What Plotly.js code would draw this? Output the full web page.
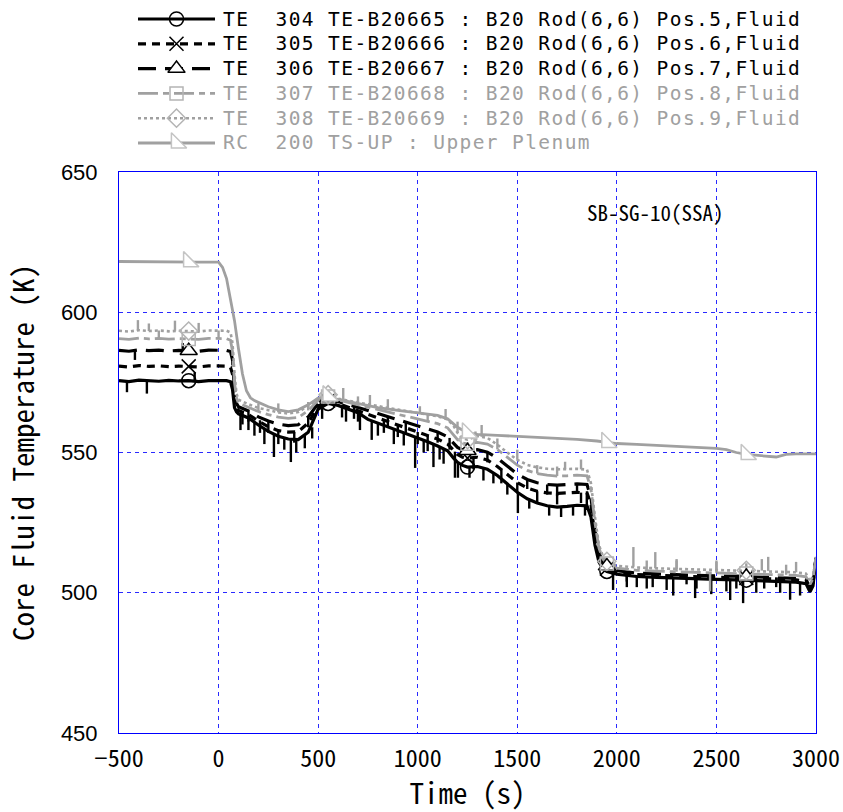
<!DOCTYPE html>
<html>
<head>
<meta charset="utf-8">
<script src="https://cdn.plot.ly/plotly-3.0.1.min.js"></script>
<style>
html,body{margin:0;padding:0;background:#fff;}
#chart{width:843px;height:812px;}
text.annotation-text[data-unformatted*="Fluid"], text.annotation-text[data-unformatted*="Plenum"]{letter-spacing:1.4px;}
</style>
</head>
<body>
<div id="chart"></div>
<script>
// ---------------- DATA ----------------
const seriesNames = [
  'TE  304 TE-B20665 : B20 Rod(6,6) Pos.5,Fluid',
  'TE  305 TE-B20666 : B20 Rod(6,6) Pos.6,Fluid',
  'TE  306 TE-B20667 : B20 Rod(6,6) Pos.7,Fluid',
  'TE  307 TE-B20668 : B20 Rod(6,6) Pos.8,Fluid',
  'TE  308 TE-B20669 : B20 Rod(6,6) Pos.9,Fluid',
  'RC  200 TS-UP : Upper Plenum'
];
const caseLabel = 'SB-SG-10(SSA)';

// time axis shared by the TE thermocouples (s)
const tTE = [-500,-450,-400,-350,-300,-250,-200,-150,-100,-50,0,
  40,60,70,80,90,100,
  150,200,250,300,350,400,450,500,550,600,650,700,750,800,850,900,950,1000,1050,1100,1150,
  1180,1200,1225,1250,
  1300,1350,1400,1450,1500,1550,1600,1650,1700,1750,1800,1850,
  1870,1890,1910,1930,1950,
  2000,2100,2200,2300,2400,2500,2600,
  2650,2700,2800,2900,2950,2970,2985,3000];

const te304 = [575.6,575.3,575.8,575.5,575.4,575.7,575.5,575.6,575.3,575.6,575.5,
  575.6,575.2,572.5,566,564.5,563.8,
  562.3,559.8,557.5,555.8,554.8,554.6,557.2,565.5,567.5,566.8,565.6,564.2,561.8,560.5,559.2,558,556.6,555.2,553.8,552.3,550.6,
  548,546.5,545.4,544.8,
  545,544,541.8,538.7,535.8,533.5,532,531,530.5,530.8,531.2,531,
  527,517,511,508.5,507.6,
  506.6,505.8,505.5,505.2,505,504.8,504.6,
  504.5,504.4,504.2,503.8,503.2,500.3,502.5,512.5];

const te305 = [580.8,580.5,581,580.7,580.9,580.6,580.8,580.7,580.5,580.9,580.7,
  580.8,580.3,578,569,566,565,
  563.5,561.2,559.2,557.8,557.3,557.4,560.5,566.5,568.5,567.5,566.3,565,563.6,562.3,561,559.8,558.6,557.3,556.1,554.8,553,
  550.8,549.3,548.3,548,
  548.3,547.3,545,542,539.3,537.3,536.2,535.6,535.4,535.6,535.8,535.6,
  531.5,520,513,510,508.6,
  507.3,506.5,506.2,505.9,505.7,505.5,505.4,
  505.3,505.2,505,504.6,504.1,501.5,503.5,512];

const te306 = [586.4,586.1,586.6,586.3,586.5,586.2,586.4,586.3,586.1,586.5,586.3,
  586.4,586,583,572,567.5,566.3,
  564.8,562.7,561.2,560.1,559.6,559.9,562.7,567.5,569.3,568.2,567.2,566.1,565,563.9,562.8,561.8,560.7,559.6,558.5,557.3,555.6,
  553.3,551.8,550.9,550.6,
  551,550.1,548,545,542.3,540.4,539.2,538.6,538.4,538.6,538.8,538.6,
  534,522,514.5,511,509.5,
  507.9,507,506.7,506.4,506.2,506,505.9,
  505.8,505.7,505.5,505.1,504.6,502,504,512.3];

const te307 = [590.6,590.3,590.8,590.5,590.7,590.4,590.6,590.5,590.3,590.7,590.5,
  590.6,590,586,575,569.5,567.6,
  566.1,564.6,563.5,562.6,562.2,562.5,564.9,568.6,570,568.8,567.9,567,566.1,565.2,564.4,563.6,562.8,562,561.2,560.3,558.8,
  556.5,554.6,553.4,553.1,
  553.6,553,551.1,548.2,545.5,543.6,542.5,541.9,541.6,541.7,541.9,541.7,
  537,525,516,512,510.4,
  508.8,508,507.7,507.5,507.3,507.1,507,
  506.9,506.8,506.6,506.2,505.7,503,505,512.7];

const te308 = [593.4,593.1,593.6,593.3,593.5,593.2,593.4,593.3,593.1,593.5,593.3,
  593.4,592.8,589,578,571,568.8,
  567.2,565.9,565,564.3,563.9,564.4,566.6,569.3,570.6,569.2,568.5,567.8,567.1,566.5,565.9,565.3,564.7,564.1,563.5,562.9,561.8,
  559.5,557,555,554.6,
  555.9,555.2,552.8,550,547.4,545.6,544.7,544.2,544,544.1,544.2,543.9,
  539,527,517,513,511.2,
  509.6,509,508.7,508.5,508.3,508.2,508.1,
  508,507.9,507.7,507.3,506.8,504,506,513];

// upper plenum fluid temperature
const tRC = [-500,-400,-300,-200,-150,-100,0,
  20,40,60,80,100,120,140,160,180,200,
  250,300,350,400,450,500,550,600,
  700,800,900,1000,1100,1150,1200,1250,1300,
  1400,1500,1600,1700,1800,1900,1950,2000,
  2100,2200,2300,2400,2500,2550,2600,2650,2700,2750,2800,2850,2900,3000];
const rc200 = [618.1,618.0,618.1,617.9,618.0,617.9,617.9,
  616,612,605,597,587,578,572,569.5,568.5,567.8,
  566.3,565.2,564.6,565.2,567,569.4,570.2,568.9,
  567.4,566,565,564.1,563.2,562,559,557,556.5,
  556.1,555.8,555.4,555,554.7,554.1,553.6,553.2,
  552.9,552.6,552.3,552,551.5,551,550,549.3,549,548.6,548.4,549.3,549.5,549.5];

// times at which the plotting symbols are placed
const markerT = [-150, 550, 1250, 1950, 2650];

// short noise spikes: time, level before spike, spike tip
const spk304T = [-460,-360,-120,110,150,180,230,278,330,363,390,433,470,520,640,710,769,800,880,930,987,1030,1079,1110,1130,1202,1260,1330,1380,1450,1503,1560,1660,1720,1780,1840,1981,2050,2100,2150,2250,2283,2393,2474,2550,2569,2634,2700,2820,2870,2920];
const spk304A = [575.6,575.5,575.4,564,562.3,561,558.5,556.5,555.2,554.8,554.6,556,559,566.5,565.8,564,561.5,560.5,558.5,557.2,555.5,554.4,552.7,552,551.5,546.3,544.8,544.6,542.8,538.7,535.7,533.3,531,530.6,531,531,507,506.2,505.8,505.6,505.3,505.3,505,504.9,504.7,504.7,504.5,504.4,504.1,504,503.6];
const spk304B = [571.5,571,578.5,558,558,556,553,548.4,551,546.6,550,551.5,555,562,561,558,554.5,556,553,552.5,544.5,550,544.8,547.5,546,541,541,540,539,535,528.4,530,527.5,527,527.5,527.5,501,502,502,501.5,501,499,498.1,499.5,500.5,497.4,496.3,500,500,497.5,499];

const spk305T = [120,208,300,380,620,700,830,900,1000,1050,1187,1280,1420,1500,1600,1700,1820,1849,2180,2400,2600,2740];
const spk305A = [564.5,561.5,557.8,557.3,567,565,561.6,559.8,557.3,556.1,550.3,548.2,543.8,539.3,536.2,535.4,535.7,535.6,506.3,505.7,505.4,505.1];
const spk305B = [560,557,553,553.5,562.5,561,557,555.5,553,550.5,541,544,539,535.5,532,531.5,532,529.5,502,501.5,501.5,501.5];

const spk306T = [-420,-180,150,250,450,680,850,940,1100,1160,1350,1550,1650,1700,1800,2050,2350,2800];
const spk306A = [586.6,586.4,564.8,561.2,562.7,566.6,562.8,561,557.3,555.2,550.1,540.4,538.6,538.4,538.8,507.5,506.3,505.5];
const spk306B = [583,589,561,557,559,562,559,557,553.5,551,546.5,537,535,534.5,535.3,504,503,502];

const spk307T = [-300,0,200,450,700,1050,1290,1400,1600,1700,2150,2300,2468,2500,2650,2850];
const spk307A = [590.7,590.5,564.6,565,567,561.2,553.5,551.1,542.5,541.6,507.8,507.5,507.2,507.1,506.9,506.4];
const spk307B = [593.5,593.5,567.5,568,570,564,557.5,555,545.5,545,511.5,511.5,500.5,511,510.5,510];

const spk308T = [-405,-350,-219,-100,300,626,760,850,1011,1140,1200,1321,1500,1740,1820,2083,2193,2300,2500,2728,2760,2900];
const spk308A = [593.4,593.3,593.4,593.1,564.3,569,567,565.9,564,562,557,555.6,547.4,544,544,509.3,508.7,508.5,508.2,507.9,507.8,507.3];
const spk308B = [597.2,596,597,596.2,567.5,573,570.5,569,566.5,565.5,561,559.8,551,546.7,547.5,516.3,514.5,512,511.5,512,512.8,511];

// ---------------- STYLES ----------------
const MONO = '"Noto Sans Mono CJK JP", "Noto Sans Mono CJK SC", "Liberation Mono", monospace';
const LEGMONO = '"DejaVu Sans Mono", "Liberation Mono", monospace';
const SANS = '"Liberation Sans", Arial, sans-serif';
const BLACK = '#000000';
const GREY = '#a0a0a0';
const MGREY = '#b4b4b4';

const styles = [
  {color: BLACK, width: 3.2, dash: 'solid', sym: 'circle-open', mcol: BLACK, mfill: 'rgba(0,0,0,0)', size: 14},
  {color: BLACK, width: 3.2, dash: '8px,6px', sym: 'x-thin-open', mcol: BLACK, mfill: 'rgba(0,0,0,0)', size: 14},
  {color: BLACK, width: 3.2, dash: '18px,9px', sym: 'triangle-up', mcol: BLACK, mfill: '#ffffff', size: 15},
  {color: GREY, width: 2.8, dash: '20px,5px,6px,5px', sym: 'square-open', mcol: MGREY, mfill: 'rgba(0,0,0,0)', size: 13},
  {color: GREY, width: 2.6, dash: '3px,3px', sym: 'diamond-open', mcol: MGREY, mfill: 'rgba(0,0,0,0)', size: 14},
  {color: GREY, width: 2.8, dash: 'solid', sym: 'triangle-sw', mcol: '#c4c4c4', mfill: '#ffffff', size: 17}
];

const seriesX = [tTE, tTE, tTE, tTE, tTE, tRC];
const seriesY = [te304, te305, te306, te307, te308, rc200];
const spikes = [
  [spk304T, spk304A, spk304B], [spk305T, spk305A, spk305B], [spk306T, spk306A, spk306B],
  [spk307T, spk307A, spk307B], [spk308T, spk308A, spk308B], null
];

const traces = [];
// data lines + spikes
for (let i = 0; i < 6; i++) {
  const s = styles[i];
  traces.push({
    type: 'scatter', mode: 'lines', x: seriesX[i], y: seriesY[i],
    xaxis: 'x', yaxis: 'y', name: seriesNames[i], showlegend: false,
    line: {color: s.color, width: s.width, dash: s.dash}, hoverinfo: 'x+y+name'
  });
  if (spikes[i]) {
    const [sT, sA, sB] = spikes[i];
    const xs = [], ys = [];
    for (let k = 0; k < sT.length; k++) { xs.push(sT[k], sT[k], null); ys.push(sA[k], sB[k], null); }
    traces.push({
      type: 'scatter', mode: 'lines', x: xs, y: ys, xaxis: 'x', yaxis: 'y',
      showlegend: false, hoverinfo: 'skip', connectgaps: false,
      line: {color: s.color, width: 2.4}
    });
  }
}
// symbols
for (let i = 0; i < 6; i++) {
  const s = styles[i];
  const mx = [], my = [];
  markerT.forEach(m => { const k = seriesX[i].indexOf(m); if (k >= 0) { mx.push(m); my.push(seriesY[i][k]); } });
  traces.push({
    type: 'scatter', mode: 'markers', x: mx, y: my, xaxis: 'x', yaxis: 'y',
    showlegend: false, hoverinfo: 'skip',
    marker: {symbol: s.sym, size: s.size, color: s.sym.endsWith('open') ? s.mcol : s.mfill,
             line: {color: s.mcol, width: 1.5}}
  });
}

// custom legend drawn on an auxiliary pixel-scaled axis pair above the plot
const LEG_TOP = 19, LEG_GAP = 24.8, SAMPLE_X0 = 138, SAMPLE_X1 = 215, TEXT_X = 222;
const annotations = [];
for (let i = 0; i < 6; i++) {
  const s = styles[i];
  const yRow = LEG_TOP + i * LEG_GAP;
  traces.push({
    type: 'scatter', mode: 'lines', x: [SAMPLE_X0, SAMPLE_X1], y: [yRow, yRow],
    xaxis: 'x2', yaxis: 'y2', showlegend: false, hoverinfo: 'skip',
    line: {color: s.color, width: s.width, dash: s.dash}
  });
  traces.push({
    type: 'scatter', mode: 'markers', x: [(SAMPLE_X0 + SAMPLE_X1) / 2], y: [yRow],
    xaxis: 'x2', yaxis: 'y2', showlegend: false, hoverinfo: 'skip',
    marker: {symbol: s.sym, size: s.size, color: s.sym.endsWith('open') ? s.mcol : s.mfill,
             line: {color: s.mcol, width: 1.5}}
  });
  annotations.push({
    xref: 'x2', yref: 'y2', x: TEXT_X, y: yRow, xanchor: 'left', yanchor: 'middle',
    borderpad: 0,
    text: seriesNames[i].replace(/ /g, '\u00a0'), showarrow: false,
    font: {family: LEGMONO, size: 19.5, color: i < 3 ? BLACK : GREY}
  });
}
annotations.push({
  xref: 'x', yref: 'y', x: 1840, y: 635.7, xanchor: 'left', yanchor: 'middle',
  text: caseLabel, showarrow: false, font: {family: MONO, size: 21, color: BLACK}
});

const GRID = '#2a2aff';
const layout = {
  width: 843, height: 812,
  margin: {l: 119, r: 27, t: 5, b: 79},
  paper_bgcolor: '#ffffff', plot_bgcolor: '#ffffff',
  showlegend: false,
  xaxis: {
    domain: [0, 1], anchor: 'y', range: [-500, 3000], tick0: 0, dtick: 500,
    showgrid: true, gridcolor: GRID, griddash: '4px,4px', gridwidth: 1, zeroline: false,
    showline: true, linecolor: '#0000ff', linewidth: 1, mirror: true, ticks: '',
    ticklabelstandoff: 4,
    tickfont: {family: MONO, size: 24, color: BLACK},
    title: {text: 'Time (s)', font: {family: MONO, size: 29, color: BLACK}, standoff: 13}
  },
  yaxis: {
    domain: [0, 0.7706], anchor: 'x', range: [450, 650], tick0: 450, dtick: 50,
    showgrid: true, gridcolor: GRID, griddash: '4px,4px', gridwidth: 1, zeroline: false,
    showline: true, linecolor: '#0000ff', linewidth: 1, mirror: true, ticks: '',
    ticklabelstandoff: 16,
    tickfont: {family: SANS, size: 22, color: BLACK},
    title: {text: 'Core Fluid Temperature (K)', font: {family: MONO, size: 29, color: BLACK}, standoff: 18}
  },
  xaxis2: {domain: [0, 1], anchor: 'y2', range: [119, 816], visible: false, fixedrange: true},
  yaxis2: {domain: [0.7871, 1], anchor: 'x2', range: [160, 5], visible: false, fixedrange: true},
  annotations: annotations
};

Plotly.newPlot('chart', traces, layout, {staticPlot: true, displayModeBar: false});
</script>
</body>
</html>
